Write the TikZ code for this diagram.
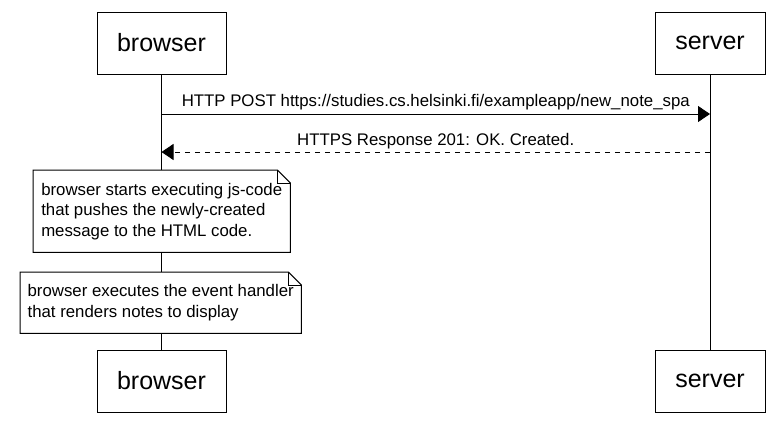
\documentclass[tikz,border=0pt]{standalone}
\usepackage{fontspec}
\setmainfont{Liberation Sans}
\usepackage{tikz}
\usetikzlibrary{arrows.meta}
\usetikzlibrary{positioning}

\tikzset{
  actor/.style={draw, fill=white, line width=1pt, font=\fontsize{25}{30}\selectfont, inner sep=0pt, minimum height=62pt},
  notebox/.style={fill=white, align=left, anchor=north west, inner sep=0pt, font=\fontsize{16.8}{20.5}\selectfont},
  msg/.style={line width=1pt, -{Triangle[length=12pt,width=16pt]}},
  msglabel/.style={font=\fontsize{16.8}{20}\selectfont, inner sep=0pt}
}
\newcommand\noteframe[1]{
  \draw[line width=1pt] (#1.south west) -- (#1.north west) -- ([xshift=-13pt]#1.north east)
    -- ([yshift=-13pt]#1.north east) -- (#1.south east) -- cycle;
  \draw[line width=1pt] ([xshift=-13pt]#1.north east) |- ([yshift=-13pt]#1.north east);
}

\begin{document}
\begin{tikzpicture}[x=1pt,y=-1pt]
\useasboundingbox[fill=white] (0,0) rectangle (782,423);
\node[actor, minimum width=129pt] (browserTop) at (161.5,43) {browser};
\node[actor, minimum width=110pt] (serverTop) at (710,43) {server};
\node[actor, minimum width=129pt] (browserBot) at (161.5,381) {browser};
\node[actor, minimum width=110pt] (serverBot) at (710,381) {server};
\draw[line width=1pt] (browserTop.south) -- (browserBot.north);
\draw[line width=1pt] (serverTop.south) -- (serverBot.north);
\coordinate (post) at (0,114);
\coordinate (resp) at (0,152);
\draw[msg] (browserTop |- post) -- node[msglabel, above=4pt] {HTTP POST https://studies.cs.helsinki.fi/exampleapp/new\_note\_spa} (serverTop |- post);
\draw[msg, dash pattern=on 5pt off 5pt] (serverTop |- resp) -- node[msglabel, above=2.5pt] {HTTPS Response 201: OK. Created.} (browserTop |- resp);
\node[notebox, minimum width=257pt, minimum height=82pt] (pushNote) at (33,170) {browser starts executing js-code\\that pushes the newly-created\\message to the HTML code.};
\noteframe{pushNote}
\node[notebox, minimum width=281pt, minimum height=61pt] (renderNote) at (20,272) {browser executes the event handler\\that renders notes to display};
\noteframe{renderNote}
\end{tikzpicture}
\end{document}
